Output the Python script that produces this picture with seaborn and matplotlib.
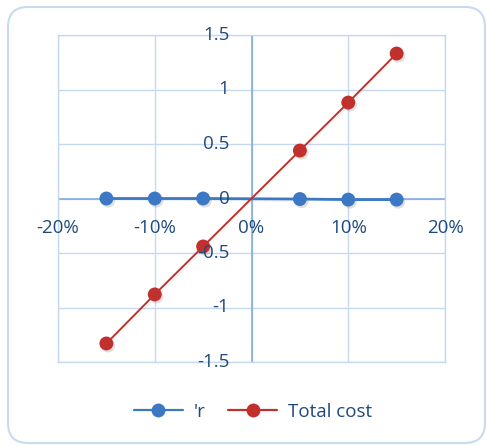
import matplotlib
matplotlib.use("Agg")
import matplotlib.pyplot as plt
import matplotlib.patheffects as pe
from matplotlib.patches import FancyBboxPatch
from matplotlib.lines import Line2D
from matplotlib.transforms import IdentityTransform
import pandas as pd
import seaborn as sns

# Change in price (fraction) and the two series measured against it
change = [-0.15, -0.10, -0.05, 0.05, 0.10, 0.15]
r_values = [0.0, 0.0, 0.0, -0.005, -0.01, -0.01]
total_cost = [-1.33, -0.88, -0.44, 0.44, 0.88, 1.33]
series_names = ["'r", "Total cost"]
x_ticks = [-0.20, -0.10, 0.0, 0.10, 0.20]
x_tick_labels = ["-20%", "-10%", "0%", "10%", "20%"]
y_ticks = [-1.5, -1.0, -0.5, 0.0, 0.5, 1.0, 1.5]
y_tick_labels = ["-1.5", "-1", "-0.5", "0", "0.5", "1", "1.5"]

df = pd.DataFrame({
    "change": change * 2,
    "value": r_values + total_cost,
    "series": [series_names[0]] * len(change) + [series_names[1]] * len(change),
})

sns.set_theme(style="white")
plt.rcParams["font.family"] = ["Open Sans", "DejaVu Sans"]

text_color = "#1F497D"
grid_color = "#C6D9F1"
axis_color = "#85ACDD"
palette = {series_names[0]: "#3C78C3", series_names[1]: "#C0302C"}

fig = plt.figure(figsize=(4.87, 4.46), dpi=100)
fig.patch.set_facecolor("white")

# Rounded chart-area border (pixel coordinates)
border = FancyBboxPatch((8, 3), 477, 436,
                        boxstyle="round,pad=0,rounding_size=20",
                        transform=IdentityTransform(), facecolor="none",
                        edgecolor="#C8DAF2", linewidth=1.5, zorder=-1)
fig.patches.append(border)

ax = fig.add_axes([58 / 487, 1 - 362 / 446, 387 / 487, 327 / 446])
ax.set_facecolor("none")

sns.lineplot(data=df, x="change", y="value", hue="series", palette=palette,
             marker="o", markersize=10, markeredgewidth=0, sort=True,
             ax=ax, legend=False, zorder=3)
shadow = [pe.SimplePatchShadow(offset=(1.2, -1.5), shadow_rgbFace="#808080", alpha=0.25),
          pe.Normal()]
ax.lines[0].set_linewidth(2.0)
ax.lines[1].set_linewidth(1.4)
for ln in ax.lines[:2]:
    ln.set_path_effects(shadow)

ax.set_xlim(-0.20, 0.20)
ax.set_ylim(-1.5, 1.5)
ax.set_xticks(x_ticks)
ax.set_yticks(y_ticks)
ax.grid(True, color=grid_color, linewidth=1.0, zorder=0)
for s in ax.spines.values():
    s.set_visible(True)
    s.set_color(grid_color)
    s.set_linewidth(1.0)

# Axes crossing at the origin
ax.axhline(0, color=axis_color, linewidth=1.2, zorder=2)
ax.axvline(0, color=axis_color, linewidth=1.2, zorder=2)

ax.set_xticklabels([])
ax.set_yticklabels([])
ax.tick_params(length=0)
ax.set_xlabel("")
ax.set_ylabel("")

fs = 13.5
for xv, lab in zip(x_ticks, x_tick_labels):
    ax.annotate(lab, xy=(xv, 0), xytext=(0, -21.5),
                textcoords="offset points", ha="center", va="center",
                fontsize=fs, color=text_color, zorder=5)
for yv, lab in zip(y_ticks, y_tick_labels):
    ax.annotate(lab, xy=(0, yv), xytext=(-16, 0), textcoords="offset points",
                ha="right", va="center", fontsize=fs, color=text_color, zorder=5)

# Legend
handles = [Line2D([], [], color=palette[n], marker="o", markersize=10,
                  markeredgewidth=0, linewidth=1.6) for n in series_names]
fig.legend(handles, series_names, loc="center", bbox_to_anchor=(0.52, 1 - 412 / 446),
           ncol=2, frameon=False, fontsize=fs, labelcolor=text_color,
           handlelength=2.6, columnspacing=1.2, handletextpad=0.6)

fig.savefig("out.png", dpi=100)
